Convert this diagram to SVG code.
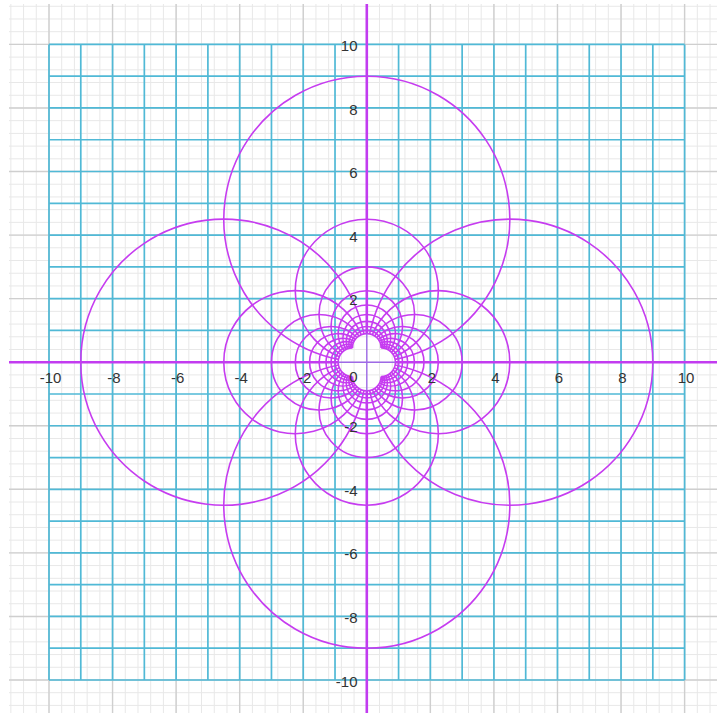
<svg xmlns="http://www.w3.org/2000/svg" xmlns:xlink="http://www.w3.org/1999/xlink" width="717" height="713" viewBox="0 0 717 713">
<style>
.minor{stroke:#e8e8e8;stroke-width:1;fill:none}
.major{stroke:#cfcfcf;stroke-width:1.4;fill:none}
.cyan{stroke:#50b9d6;stroke-width:1.7;fill:none}
.curve{stroke:#c63cf0;stroke-width:1.6;fill:none}
.axis-thin{stroke:#9e6ae6;stroke-width:1.4;fill:none}
.axis{stroke:#c23cf0;stroke-width:2.6;fill:none}
.lbl{font-family:"Liberation Sans",Arial,sans-serif;font-size:15px;fill:#333}
.xl{text-anchor:middle}
.yl{text-anchor:end}
</style>
<defs>
<clipPath id="area"><rect x="9" y="4" width="708" height="709"/></clipPath>
</defs>
<rect width="717" height="713" fill="#ffffff"/>
<g clip-path="url(#area)">
<g id="grid-minor" class="minor">
<path d="M10.86,4V713M23.58,4V713M36.29,4V713M49,4V713M61.71,4V713M74.42,4V713M87.14,4V713M99.85,4V713M112.56,4V713M125.27,4V713M137.98,4V713M150.7,4V713M163.41,4V713M176.12,4V713M188.83,4V713M201.54,4V713M214.26,4V713M226.97,4V713M239.68,4V713M252.39,4V713M265.1,4V713M277.82,4V713M290.53,4V713M303.24,4V713M315.95,4V713M328.66,4V713M341.38,4V713M354.09,4V713M366.8,4V713M379.51,4V713M392.22,4V713M404.94,4V713M417.65,4V713M430.36,4V713M443.07,4V713M455.78,4V713M468.5,4V713M481.21,4V713M493.92,4V713M506.63,4V713M519.34,4V713M532.06,4V713M544.77,4V713M557.48,4V713M570.19,4V713M582.9,4V713M595.62,4V713M608.33,4V713M621.04,4V713M633.75,4V713M646.46,4V713M659.18,4V713M671.89,4V713M684.6,4V713M697.31,4V713M710.02,4V713"/>
<path d="M9,6.26H717M9,18.98H717M9,31.69H717M9,44.4H717M9,57.11H717M9,69.82H717M9,82.54H717M9,95.25H717M9,107.96H717M9,120.67H717M9,133.38H717M9,146.1H717M9,158.81H717M9,171.52H717M9,184.23H717M9,196.94H717M9,209.66H717M9,222.37H717M9,235.08H717M9,247.79H717M9,260.5H717M9,273.22H717M9,285.93H717M9,298.64H717M9,311.35H717M9,324.06H717M9,336.78H717M9,349.49H717M9,362.2H717M9,374.91H717M9,387.62H717M9,400.34H717M9,413.05H717M9,425.76H717M9,438.47H717M9,451.18H717M9,463.9H717M9,476.61H717M9,489.32H717M9,502.03H717M9,514.74H717M9,527.46H717M9,540.17H717M9,552.88H717M9,565.59H717M9,578.3H717M9,591.02H717M9,603.73H717M9,616.44H717M9,629.15H717M9,641.86H717M9,654.58H717M9,667.29H717M9,680H717M9,692.71H717M9,705.42H717"/>
</g>
<g id="grid-major" class="major">
<path d="M49,4V713M112.56,4V713M176.12,4V713M239.68,4V713M303.24,4V713M430.36,4V713M493.92,4V713M557.48,4V713M621.04,4V713M684.6,4V713"/>
<path d="M9,44.4H717M9,107.96H717M9,171.52H717M9,235.08H717M9,298.64H717M9,425.76H717M9,489.32H717M9,552.88H717M9,616.44H717M9,680H717"/>
</g>
<g id="grid-cyan" class="cyan">
<path d="M49,44.4V680M80.78,44.4V680M112.56,44.4V680M144.34,44.4V680M176.12,44.4V680M207.9,44.4V680M239.68,44.4V680M271.46,44.4V680M303.24,44.4V680M335.02,44.4V680M398.58,44.4V680M430.36,44.4V680M462.14,44.4V680M493.92,44.4V680M525.7,44.4V680M557.48,44.4V680M589.26,44.4V680M621.04,44.4V680M652.82,44.4V680M684.6,44.4V680"/>
<path d="M49,44.4H684.6M49,76.18H684.6M49,107.96H684.6M49,139.74H684.6M49,171.52H684.6M49,203.3H684.6M49,235.08H684.6M49,266.86H684.6M49,298.64H684.6M49,330.42H684.6M49,393.98H684.6M49,425.76H684.6M49,457.54H684.6M49,489.32H684.6M49,521.1H684.6M49,552.88H684.6M49,584.66H684.6M49,616.44H684.6M49,648.22H684.6M49,680H684.6"/>
</g>
<g id="curves" class="curve" transform="translate(366.8 362.2)">
<path id="arcsR" d="M2.832,-28.319A143.01,143.01 0 1 1 2.832,28.319M5.5,-27.502A71.505,71.505 0 1 1 5.5,27.502M7.872,-26.24A47.67,47.67 0 1 1 7.872,26.24M9.863,-24.657A35.753,35.753 0 1 1 9.863,24.657M11.441,-22.882A28.602,28.602 0 1 1 11.441,22.882M12.619,-21.031A23.835,23.835 0 1 1 12.619,21.031M13.437,-19.196A20.43,20.43 0 1 1 13.437,19.196M13.952,-17.44A17.876,17.876 0 1 1 13.952,17.44M14.222,-15.802A15.89,15.89 0 1 1 14.222,15.802M14.301,-14.301A14.301,14.301 0 1 1 14.301,14.301"/>
<use xlink:href="#arcsR" href="#arcsR" transform="rotate(90)"/>
<use xlink:href="#arcsR" href="#arcsR" transform="rotate(180)"/>
<use xlink:href="#arcsR" href="#arcsR" transform="rotate(270)"/>
</g>
<g id="axes">
<path class="axis-thin" d="M366.8,4V713M9,362.2H717"/>
<path class="axis" d="M366.8,4V333.6M366.8,390.8V713M9,362.2H338.2M395.4,362.2H717"/>
</g>
</g>
<g id="labels" class="lbl">
<text class="xl" x="50.5" y="382.5">-10</text>
<text class="xl" x="114" y="382.5">-8</text>
<text class="xl" x="177.6" y="382.5">-6</text>
<text class="xl" x="241.2" y="382.5">-4</text>
<text class="xl" x="304.7" y="382.5">-2</text>
<text class="yl" x="357.5" y="382">0</text>
<text class="xl" x="431.9" y="382.5">2</text>
<text class="xl" x="495.4" y="382.5">4</text>
<text class="xl" x="559" y="382.5">6</text>
<text class="xl" x="622.5" y="382.5">8</text>
<text class="xl" x="686.1" y="382.5">10</text>
<text class="yl" x="357.5" y="50.9">10</text>
<text class="yl" x="357.5" y="114.5">8</text>
<text class="yl" x="357.5" y="178">6</text>
<text class="yl" x="357.5" y="241.6">4</text>
<text class="yl" x="357.5" y="305.1">2</text>
<text class="yl" x="357.5" y="432.3">-2</text>
<text class="yl" x="357.5" y="495.8">-4</text>
<text class="yl" x="357.5" y="559.4">-6</text>
<text class="yl" x="357.5" y="622.9">-8</text>
<text class="yl" x="357.5" y="686.5">-10</text>
</g>
</svg>
